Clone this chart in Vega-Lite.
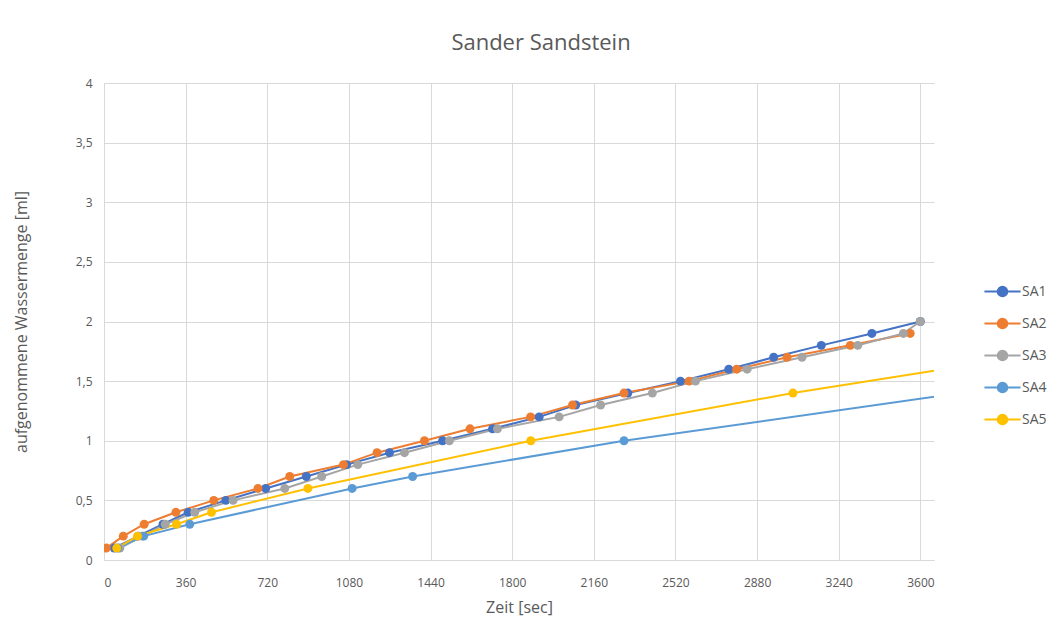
{
  "$schema": "https://vega.github.io/schema/vega-lite/v6.json",
  "autosize": {"type": "none"},
  "width": 830,
  "height": 477,
  "padding": {"left": 104, "top": 83, "right": 128, "bottom": 83},
  "background": "white",
  "title": {"text": "Sander Sandstein", "fontSize": 22, "font": "Open Sans", "fontWeight": "normal", "color": "#595959", "anchor": "middle", "frame": "group", "dx": 22, "offset": 22},
  "config": {
    "view": {"stroke": null},
    "font": "Open Sans",
    "axis": {"gridColor": "#d9d9d9", "gridWidth": 1, "labelColor": "#595959", "titleColor": "#595959", "labelFontSize": 12, "titleFontSize": 16, "titleFontWeight": "normal", "ticks": false, "labelFont": "Open Sans", "titleFont": "Open Sans"}
  },
  "data": {"values": [
    {"s":"SA1","t":45,"v":0.1},{"s":"SA1","t":150,"v":0.2},{"s":"SA1","t":260,"v":0.3},{"s":"SA1","t":371,"v":0.4},{"s":"SA1","t":537,"v":0.5},{"s":"SA1","t":713,"v":0.6},{"s":"SA1","t":892,"v":0.7},{"s":"SA1","t":1070,"v":0.8},{"s":"SA1","t":1259,"v":0.9},{"s":"SA1","t":1493,"v":1.0},{"s":"SA1","t":1713,"v":1.1},{"s":"SA1","t":1919,"v":1.2},{"s":"SA1","t":2080,"v":1.3},{"s":"SA1","t":2310,"v":1.4},{"s":"SA1","t":2542,"v":1.5},{"s":"SA1","t":2755,"v":1.6},{"s":"SA1","t":2953,"v":1.7},{"s":"SA1","t":3163,"v":1.8},{"s":"SA1","t":3386,"v":1.9},{"s":"SA1","t":3600,"v":2.0},
    {"s":"SA2","t":10,"v":0.1},{"s":"SA2","t":85,"v":0.2},{"s":"SA2","t":177,"v":0.3},{"s":"SA2","t":317,"v":0.4},{"s":"SA2","t":484,"v":0.5},{"s":"SA2","t":679,"v":0.6},{"s":"SA2","t":819,"v":0.7},{"s":"SA2","t":1056,"v":0.8},{"s":"SA2","t":1204,"v":0.9},{"s":"SA2","t":1413,"v":1.0},{"s":"SA2","t":1614,"v":1.1},{"s":"SA2","t":1881,"v":1.2},{"s":"SA2","t":2066,"v":1.3},{"s":"SA2","t":2293,"v":1.4},{"s":"SA2","t":2580,"v":1.5},{"s":"SA2","t":2790,"v":1.6},{"s":"SA2","t":3012,"v":1.7},{"s":"SA2","t":3291,"v":1.8},{"s":"SA2","t":3555,"v":1.9},
    {"s":"SA3","t":70,"v":0.1},{"s":"SA3","t":170,"v":0.2},{"s":"SA3","t":270,"v":0.3},{"s":"SA3","t":400,"v":0.4},{"s":"SA3","t":569,"v":0.5},{"s":"SA3","t":797,"v":0.6},{"s":"SA3","t":960,"v":0.7},{"s":"SA3","t":1119,"v":0.8},{"s":"SA3","t":1325,"v":0.9},{"s":"SA3","t":1523,"v":1.0},{"s":"SA3","t":1735,"v":1.1},{"s":"SA3","t":2007,"v":1.2},{"s":"SA3","t":2190,"v":1.3},{"s":"SA3","t":2418,"v":1.4},{"s":"SA3","t":2608,"v":1.5},{"s":"SA3","t":2836,"v":1.6},{"s":"SA3","t":3078,"v":1.7},{"s":"SA3","t":3324,"v":1.8},{"s":"SA3","t":3525,"v":1.9},{"s":"SA3","t":3599,"v":2.0},
    {"s":"SA4","t":60,"v":0.1},{"s":"SA4","t":175,"v":0.2},{"s":"SA4","t":378,"v":0.3},{"s":"SA4","t":1094,"v":0.6},{"s":"SA4","t":1361,"v":0.7},{"s":"SA4","t":2293,"v":1.0},{"s":"SA4","t":3776,"v":1.4},
    {"s":"SA5","t":56,"v":0.1},{"s":"SA5","t":148,"v":0.2},{"s":"SA5","t":320,"v":0.3},{"s":"SA5","t":474,"v":0.4},{"s":"SA5","t":899,"v":0.6},{"s":"SA5","t":1882,"v":1.0},{"s":"SA5","t":3038,"v":1.4},{"s":"SA5","t":3700,"v":1.6}
  ]},
  "encoding": {
    "x": {"field": "t", "type": "quantitative", "scale": {"domain": [0, 3660], "nice": false}, "axis": {"title": "Zeit [sec]", "format": "d", "values": [0,360,720,1080,1440,1800,2160,2520,2880,3240,3600], "domainColor": "#d9d9d9", "labelPadding": 17, "titlePadding": 11}},
    "y": {"field": "v", "type": "quantitative", "scale": {"domain": [0, 4], "nice": false}, "axis": {"title": "aufgenommene Wassermenge [ml]", "values": [0,0.5,1,1.5,2,2.5,3,3.5,4], "domain": false, "labelPadding": 12, "titlePadding": 46, "labelExpr": "replace(toString(datum.value), '.', ',')"}},
    "color": {"field": "s", "type": "nominal", "scale": {"domain": ["SA1","SA2","SA3","SA4","SA5"], "range": ["#4472C4","#ED7D31","#A5A5A5","#5B9BD5","#FFC000"]},
      "legend": {"title": null, "orient": "none", "legendX": 885, "legendY": 195, "symbolType": "M-1.5,0H1.5M0.4,0A0.4,0.4,0,1,1,-0.4,0A0.4,0.4,0,1,1,0.4,0", "symbolSize": 580, "symbolStrokeWidth": 2, "labelFontSize": 14, "labelColor": "#595959", "rowPadding": 9, "labelOffset": 6}}
  },
  "layer": [
    {"mark": {"type": "line", "strokeWidth": 2, "clip": true}},
    {"mark": {"type": "point", "filled": true, "size": 80, "opacity": 1, "clip": true}}
  ]
}
